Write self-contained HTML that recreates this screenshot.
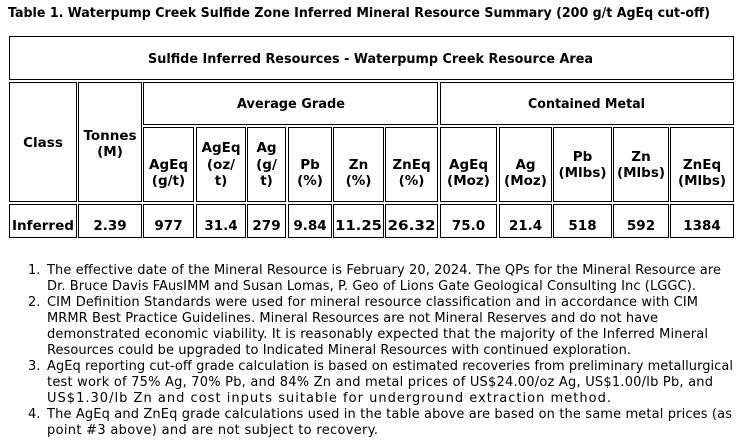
<!DOCTYPE html>
<html><head><meta charset="utf-8"><style>
html,body{margin:0;padding:0;background:#fff;width:747px;height:447px;overflow:hidden}
svg{display:block}
text{font-family:"DejaVu Sans","Liberation Sans",sans-serif;fill:#000}
.b{font-weight:bold;font-size:13.5px}
.n{font-size:13px}
</style></head><body>
<svg width="747" height="447" xmlns="http://www.w3.org/2000/svg">
<text class="b" x="8" y="17" textLength="702" lengthAdjust="spacingAndGlyphs">Table 1. Waterpump Creek Sulfide Zone Inferred Mineral Resource Summary (200 g/t AgEq cut-off)</text>
<g fill="none" stroke="#000" stroke-width="1">
<rect x="9.5" y="36.5" width="724" height="43"/>
<rect x="9.5" y="82.5" width="67" height="119"/>
<rect x="78.5" y="82.5" width="63" height="119"/>
<rect x="143.5" y="82.5" width="294" height="42"/>
<rect x="440.5" y="82.5" width="293" height="42"/>
<rect x="143.5" y="127.5" width="50" height="74"/>
<rect x="196.5" y="127.5" width="49" height="74"/>
<rect x="247.5" y="127.5" width="38" height="74"/>
<rect x="288.5" y="127.5" width="43" height="74"/>
<rect x="333.5" y="127.5" width="50" height="74"/>
<rect x="385.5" y="127.5" width="52" height="74"/>
<rect x="440.5" y="127.5" width="56" height="74"/>
<rect x="499.5" y="127.5" width="52" height="74"/>
<rect x="553.5" y="127.5" width="58" height="74"/>
<rect x="613.5" y="127.5" width="55" height="74"/>
<rect x="670.5" y="127.5" width="63" height="74"/>
<rect x="9.5" y="204.5" width="67" height="33"/>
<rect x="78.5" y="204.5" width="63" height="33"/>
<rect x="143.5" y="204.5" width="50" height="33"/>
<rect x="196.5" y="204.5" width="49" height="33"/>
<rect x="247.5" y="204.5" width="38" height="33"/>
<rect x="288.5" y="204.5" width="43" height="33"/>
<rect x="333.5" y="204.5" width="50" height="33"/>
<rect x="385.5" y="204.5" width="52" height="33"/>
<rect x="440.5" y="204.5" width="56" height="33"/>
<rect x="499.5" y="204.5" width="52" height="33"/>
<rect x="553.5" y="204.5" width="58" height="33"/>
<rect x="613.5" y="204.5" width="55" height="33"/>
<rect x="670.5" y="204.5" width="63" height="33"/>
</g>
<text class="b" x="148" y="63" textLength="445" lengthAdjust="spacingAndGlyphs">Sulfide Inferred Resources - Waterpump Creek Resource Area</text>
<text class="b" x="237" y="108" textLength="108" lengthAdjust="spacingAndGlyphs">Average Grade</text>
<text class="b" x="528" y="108" textLength="117" lengthAdjust="spacingAndGlyphs">Contained Metal</text>
<g class="b" text-anchor="middle">
<text x="43" y="147">Class</text>
<text x="110" y="140">Tonnes</text><text x="110" y="156">(M)</text>
<text x="168.5" y="169">AgEq</text><text x="168.5" y="185">(g/t)</text>
<text x="221" y="152">AgEq</text><text x="221" y="169">(oz/</text><text x="221" y="185">t)</text>
<text x="266.5" y="152">Ag</text><text x="266.5" y="169">(g/</text><text x="266.5" y="185">t)</text>
<text x="310" y="169">Pb</text><text x="310" y="185">(%)</text>
<text x="358.5" y="169">Zn</text><text x="358.5" y="185">(%)</text>
<text x="411.5" y="169">ZnEq</text><text x="411.5" y="185">(%)</text>
<text x="468.5" y="169">AgEq</text><text x="468.5" y="185">(Moz)</text>
<text x="525.5" y="169">Ag</text><text x="525.5" y="185">(Moz)</text>
<text x="582.5" y="161">Pb</text><text x="582.5" y="177">(Mlbs)</text>
<text x="641" y="161">Zn</text><text x="641" y="177">(Mlbs)</text>
<text x="702" y="169">ZnEq</text><text x="702" y="185">(Mlbs)</text>
<text x="43" y="230" textLength="62" lengthAdjust="spacingAndGlyphs">Inferred</text>
<text x="110" y="230">2.39</text>
<text x="168.5" y="230">977</text>
<text x="221" y="230">31.4</text>
<text x="266.5" y="230">279</text>
<text x="310" y="230">9.84</text>
<text x="358.5" y="230" textLength="47" lengthAdjust="spacingAndGlyphs">11.25</text>
<text x="411.5" y="230" textLength="48" lengthAdjust="spacingAndGlyphs">26.32</text>
<text x="468.5" y="230">75.0</text>
<text x="525.5" y="230">21.4</text>
<text x="582.5" y="230">518</text>
<text x="641" y="230">592</text>
<text x="702" y="230">1384</text>
</g>
<g class="n">
<text x="28" y="274">1.</text>
<text x="28" y="306">2.</text>
<text x="28" y="370">3.</text>
<text x="28" y="418">4.</text>
<text x="47" y="274" textLength="674" lengthAdjust="spacing">The effective date of the Mineral Resource is February 20, 2024. The QPs for the Mineral Resource are</text>
<text x="47" y="290" textLength="649" lengthAdjust="spacing">Dr. Bruce Davis FAusIMM and Susan Lomas, P. Geo of Lions Gate Geological Consulting Inc (LGGC).</text>
<text x="47" y="306" textLength="651" lengthAdjust="spacing">CIM Definition Standards were used for mineral resource classification and in accordance with CIM</text>
<text x="47" y="322" textLength="611" lengthAdjust="spacing">MRMR Best Practice Guidelines. Mineral Resources are not Mineral Reserves and do not have</text>
<text x="47" y="338" textLength="661" lengthAdjust="spacing">demonstrated economic viability. It is reasonably expected that the majority of the Inferred Mineral</text>
<text x="47" y="354" textLength="584" lengthAdjust="spacing">Resources could be upgraded to Indicated Mineral Resources with continued exploration.</text>
<text x="47" y="370" textLength="686" lengthAdjust="spacing">AgEq reporting cut-off grade calculation is based on estimated recoveries from preliminary metallurgical</text>
<text x="47" y="386" textLength="666" lengthAdjust="spacing">test work of 75% Ag, 70% Pb, and 84% Zn and metal prices of US$24.00/oz Ag, US$1.00/lb Pb, and</text>
<text x="47" y="402" textLength="564" lengthAdjust="spacing">US$1.30/lb Zn and cost inputs suitable for underground extraction method.</text>
<text x="47" y="418" textLength="685" lengthAdjust="spacing">The AgEq and ZnEq grade calculations used in the table above are based on the same metal prices (as</text>
<text x="47" y="434" textLength="331" lengthAdjust="spacing">point #3 above) and are not subject to recovery.</text>
</g>
</svg>
</body></html>
